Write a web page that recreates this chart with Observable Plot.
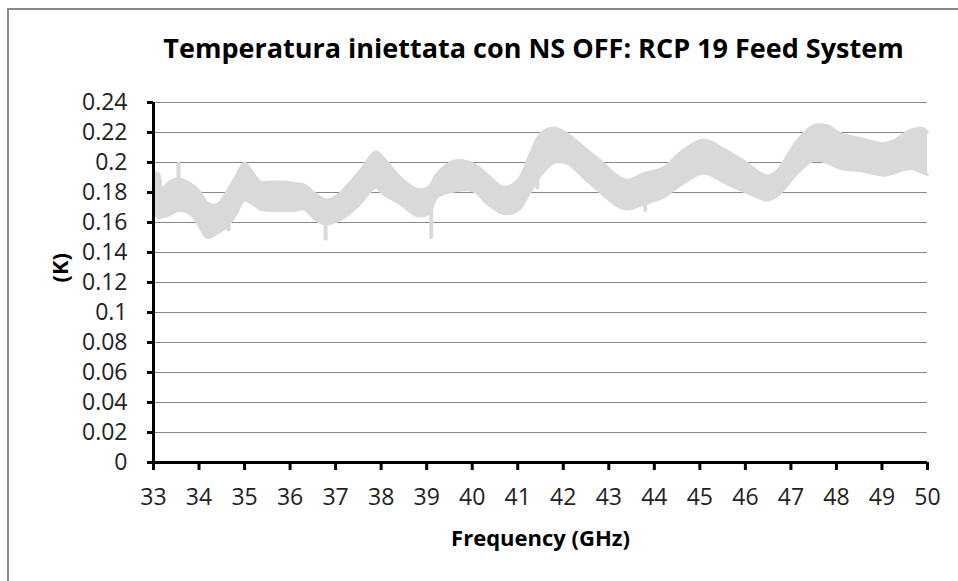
<!DOCTYPE html>
<html>
<head>
<meta charset="utf-8">
<script src="https://cdn.jsdelivr.net/npm/d3@7"></script>
<script src="https://cdn.jsdelivr.net/npm/@observablehq/plot@0.6"></script>
<style>
  html, body { margin: 0; padding: 0; background: #fff; overflow: hidden; }
  #wrap { position: relative; width: 958px; height: 581px; }
  #border { position: absolute; left: 7px; top: 8px; width: 1200px; height: 1200px;
            border: 2px solid #8a8a8a; box-sizing: border-box; pointer-events: none; }
  #chart { position: absolute; left: 0; top: 0; }
</style>
</head>
<body>
<div id="wrap"><div id="chart"></div><div id="border"></div></div>
<script>
const title = "Temperatura iniettata con NS OFF: RCP 19 Feed System";
const xLabel = "Frequency (GHz)";
const yLabel = "(K)";
const xTicks = [33,34,35,36,37,38,39,40,41,42,43,44,45,46,47,48,49,50];
const yTicks = [0,0.02,0.04,0.06,0.08,0.1,0.12,0.14,0.16,0.18,0.2,0.22,0.24];

// Band of overlapping traces: frequency (GHz), lower and upper envelope (K)
const freq  = [33.00,33.05,33.12,33.18,33.25,33.40,33.55,33.80,34.00,34.18,34.40,34.60,34.80,35.00,35.20,35.35,35.60,35.86,36.10,36.30,36.60,36.80,37.04,37.30,37.55,37.88,38.05,38.42,38.80,39.04,39.23,39.60,40.03,40.34,40.69,41.00,41.28,41.50,41.79,42.09,42.45,42.82,43.19,43.41,43.77,44.20,44.57,45.08,45.52,45.96,46.48,46.70,47.14,47.50,47.80,48.10,48.53,49.04,49.26,49.63,49.91,50.00];
const lower = [0.168,0.165,0.163,0.164,0.164,0.166,0.168,0.166,0.158,0.150,0.153,0.157,0.165,0.175,0.172,0.169,0.168,0.168,0.168,0.169,0.161,0.159,0.161,0.166,0.173,0.1835,0.179,0.1725,0.1645,0.166,0.177,0.181,0.181,0.1725,0.166,0.168,0.181,0.1915,0.200,0.1995,0.190,0.180,0.171,0.169,0.1725,0.177,0.185,0.193,0.187,0.181,0.175,0.178,0.193,0.2015,0.200,0.196,0.1945,0.1915,0.193,0.196,0.193,0.192];
const upper = [0.190,0.193,0.192,0.181,0.184,0.188,0.189,0.186,0.181,0.173,0.172,0.180,0.190,0.1995,0.192,0.187,0.187,0.187,0.186,0.185,0.178,0.175,0.178,0.186,0.195,0.207,0.203,0.190,0.182,0.1835,0.1925,0.201,0.199,0.1915,0.1835,0.188,0.206,0.219,0.223,0.219,0.210,0.201,0.191,0.188,0.1925,0.1965,0.2065,0.215,0.209,0.201,0.191,0.1945,0.2145,0.2245,0.2245,0.219,0.216,0.2125,0.2145,0.2215,0.2225,0.220];

// Narrow glitches sticking out of the band
const spikeFreq = [33.55,34.65,36.78,39.10,41.43,43.80];
const spikeFrom = [0.189,0.165,0.165,0.170,0.195,0.178];
const spikeTo   = [0.199,0.155,0.149,0.150,0.183,0.168];

const band = freq.map((f, i) => ({f, lo: lower[i], hi: upper[i]}));
const spikes = spikeFreq.map((f, i) => ({f, a: spikeFrom[i], b: spikeTo[i]}));

const font = "'Open Sans', 'DejaVu Sans', sans-serif";
const band_color = "#d9d9d9";
const ink = "#222222";

const chart = Plot.plot({
  width: 958,
  height: 581,
  marginLeft: 153,
  marginRight: 31,
  marginTop: 102,
  marginBottom: 119,
  style: {fontFamily: font, color: ink, background: "transparent"},
  x: {domain: [33, 50]},
  y: {domain: [0, 0.24]},
  marks: [
    Plot.gridY(yTicks, {stroke: "#888888", strokeOpacity: 1, strokeWidth: 1}),
    Plot.areaY(band, {x: "f", y1: "lo", y2: "hi", fill: band_color, curve: "catmull-rom"}),
    Plot.lineY(band, {x: "f", y: "hi", stroke: band_color, strokeWidth: 3, curve: "catmull-rom"}),
    Plot.lineY(band, {x: "f", y: "lo", stroke: band_color, strokeWidth: 3, curve: "catmull-rom"}),
    Plot.ruleX(spikes, {x: "f", y1: "a", y2: "b", stroke: band_color, strokeWidth: 4, strokeLinecap: "round"}),
    Plot.ruleY([0], {stroke: "#000", strokeWidth: 3}),
    Plot.ruleX([33], {stroke: "#000", strokeWidth: 3}),
    Plot.axisY({ticks: yTicks, tickFormat: d => String(+d.toFixed(2)), tickSize: 6, tickPadding: 20,
                fontSize: 23, strokeWidth: 3, stroke: "#000", fill: ink, label: null}),
    Plot.axisX({ticks: xTicks, tickFormat: d => String(d), tickSize: 8, tickPadding: 18,
                fontSize: 23, strokeWidth: 3, stroke: "#000", fill: ink, label: null}),
    Plot.text([title], {text: d => d, frameAnchor: "top", lineAnchor: "middle", dy: -53, dx: -7,
                        fontSize: 27, fontWeight: "bold", fill: "#000"}),
    Plot.text([xLabel], {text: d => d, frameAnchor: "bottom", lineAnchor: "middle", dy: 76,
                         fontSize: 22, fontWeight: "bold", fill: "#000"}),
    Plot.text([yLabel], {text: d => d, frameAnchor: "left", lineAnchor: "middle", dx: -93, rotate: -90,
                         fontSize: 22, fontWeight: "bold", fill: "#000"})
  ]
});
document.getElementById("chart").appendChild(chart);
</script>
</body>
</html>
